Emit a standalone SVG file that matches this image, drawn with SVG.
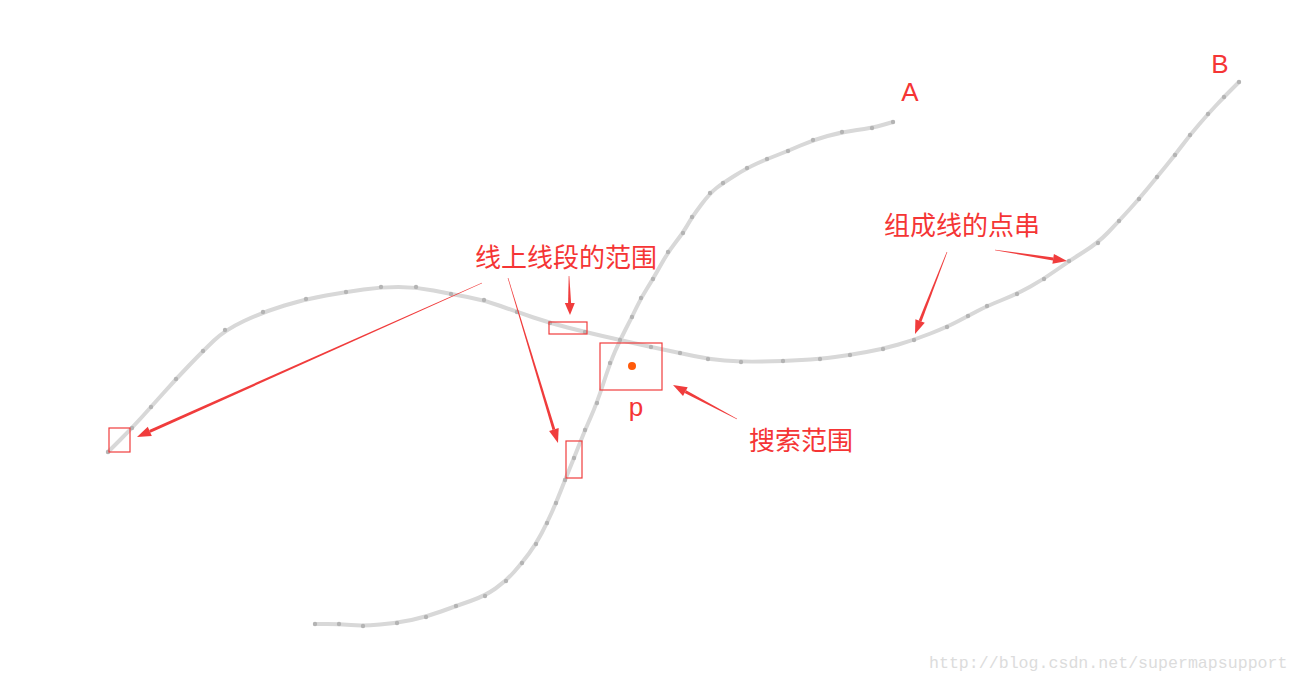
<svg xmlns="http://www.w3.org/2000/svg" width="1300" height="683" viewBox="0 0 1300 683">
<style>
.line{fill:none;stroke:#d8d8d8;stroke-width:4;stroke-linejoin:round;stroke-linecap:round;filter:url(#soft)}
.dots{fill:none;stroke:none;marker-start:url(#dot);marker-mid:url(#dot);marker-end:url(#dot)}
.box{fill:none;stroke:#f03c3c;stroke-width:1.2}
.arr{fill:#f03c3c;stroke:none}
.lbl{font-family:"Noto Sans CJK SC","Noto Sans",sans-serif;font-size:26px;fill:#f53535}
.lat{font-family:"Liberation Sans",Arial,sans-serif;font-size:26px;fill:#f53535;text-anchor:middle}
.wm{font-family:"Liberation Mono","DejaVu Sans Mono",monospace;font-size:16.6px;fill:#dcdcdc}
</style>
<defs>
<marker id="dot" markerUnits="userSpaceOnUse" markerWidth="8" markerHeight="8" refX="4" refY="4" viewBox="0 0 8 8">
<circle cx="4" cy="4" r="2.2" fill="#b4b4b4"/>
</marker>
<filter id="soft" x="-5%" y="-5%" width="110%" height="110%"><feGaussianBlur stdDeviation="0.6"/></filter>
</defs>
<rect width="1300" height="683" fill="#fff"/>
<g id="lines">
<g id="lineA">
<path class="line" d="M315,624 L327,624 Q339,624 351,625 Q363,626 380,624.5 Q397,623 411.5,620 Q426,617 441,611.5 Q456,606 470.5,601 Q485,596 495.5,588.5 Q506,581 514,572 Q522,563 529,553.5 Q536,544 541.5,533.5 Q547,523 551.5,513 Q556,503 560.5,491.5 Q565,480 569.5,469 Q574,458 579.5,444 Q585,430 591,416.5 Q597,403 603.5,383 Q610,363 615,351.5 Q620,340 626,328.5 Q632,317 636.5,307.5 Q641,298 647,288.5 Q653,279 660.5,265.5 Q668,252 675.5,242.5 Q683,233 687.5,225 Q692,217 701,205 Q710,193 716.5,188 Q723,183 735,175.5 Q747,168 757,163.5 Q767,159 777.5,155 Q788,151 800.5,145.5 Q813,140 827.5,136 Q842,132 857,130 Q872,128 882.5,125 L893,122"/>
<polyline class="dots" points="315,624 339,624 363,626 397,623 426,617 456,606 485,596 506,581 522,563 536,544 547,523 556,503 565,480 574,458 585,430 597,403 610,363 620,340 632,317 641,298 653,279 668,252 683,233 692,217 710,193 723,183 747,168 767,159 788,151 813,140 842,132 872,128 893,122"/>
</g>
<g id="lineB">
<path class="line" d="M108,452 L120,440 Q132,428 141.5,417.5 Q151,407 163.5,393 Q176,379 189.5,365 Q203,351 214,340.5 Q225,330 244,321 Q263,312 284.5,305.5 Q306,299 326,295.5 Q346,292 363.5,289.5 Q381,287 398.5,287 Q416,287 433.5,290.5 Q451,294 467.5,297 Q484,300 500.5,306 Q517,312 533.5,317.5 Q550,323 567.5,327.5 Q585,332 602.5,336 Q620,340 635.5,343.5 Q651,347 665.5,350 Q680,353 694,356 Q708,359 724.5,360.5 Q741,362 762,361.5 Q783,361 801.5,360 Q820,359 835,357 Q850,355 866.5,352 Q883,349 898.5,344.5 Q914,340 930.5,333.5 Q947,327 957.5,321.5 Q968,316 977.5,311 Q987,306 1002,300 Q1017,294 1030.5,286.5 Q1044,279 1056.5,270 Q1069,261 1083.5,252 Q1098,243 1108.5,232 Q1119,221 1129,210 Q1139,199 1148,188 Q1157,177 1166,166 Q1175,155 1182.5,145 Q1190,135 1199,124.5 Q1208,114 1216,105.5 Q1224,97 1231.5,89.5 L1239,82"/>
<polyline class="dots" points="108,452 132,428 151,407 176,379 203,351 225,330 263,312 306,299 346,292 381,287 416,287 451,294 484,300 517,312 550,323 585,332 620,340 651,347 680,353 708,359 741,362 783,361 820,359 850,355 883,349 914,340 947,327 968,316 987,306 1017,294 1044,279 1069,261 1098,243 1119,221 1139,199 1157,177 1175,155 1190,135 1208,114 1224,97 1239,82"/>
</g>
</g>
<g id="boxes">
<rect id="box-end" class="box" x="109" y="428" width="21" height="24"/>
<rect id="box-seg" class="box" x="549" y="322" width="38" height="12"/>
<rect id="box-search" class="box" x="600" y="343" width="62" height="47"/>
<rect id="box-seg2" class="box" x="566" y="441" width="16" height="37"/>
</g>
<g id="point-p">
<circle cx="632" cy="366" r="4" fill="#ff5a0a"/>
<text class="lat" x="636" y="416">p</text>
</g>
<g id="labels">
<text class="lat" x="910" y="101">A</text>
<text class="lat" x="1220" y="73">B</text>
<text class="lbl" x="475" y="267">线上线段的范围</text>
<text class="lbl" x="884" y="235">组成线的点串</text>
<text class="lbl" x="749" y="450">搜索范围</text>
</g>
<g id="connectors">
<polygon class="arr" points="481.9,282.7 482.1,283.3 150.4,432.7 149.2,429.9"/>
<polygon class="arr" points="137,437 147.8,426.7 151.8,435.9"/>
<polygon class="arr" points="507.7,278.1 508.3,277.9 555.3,429.2 552.5,430"/>
<polygon class="arr" points="558,443 549.1,431.1 558.7,428.1"/>
<polygon class="arr" points="568.7,276 569.3,276 571.1,303 568.1,303"/>
<polygon class="arr" points="570,315 564.8,303 574.8,303"/>
<polygon class="arr" points="946.7,251.9 947.3,252.1 921.5,321.5 918.7,320.5"/>
<polygon class="arr" points="915,334 915.4,319.2 924.8,322.8"/>
<polygon class="arr" points="994.95,250.3 995.05,249.7 1053.4,257.4 1052.9,260.4"/>
<polygon class="arr" points="1067,261 1052.4,263.8 1053.9,253.9"/>
<polygon class="arr" points="737.1,418.7 736.9,419.3 684.7,392.9 686.1,390.3"/>
<polygon class="arr" points="673,385 687.7,387.2 683,396"/>
</g>
<text class="wm" x="929" y="668">http://blog.csdn.net/supermapsupport</text>
</svg>
